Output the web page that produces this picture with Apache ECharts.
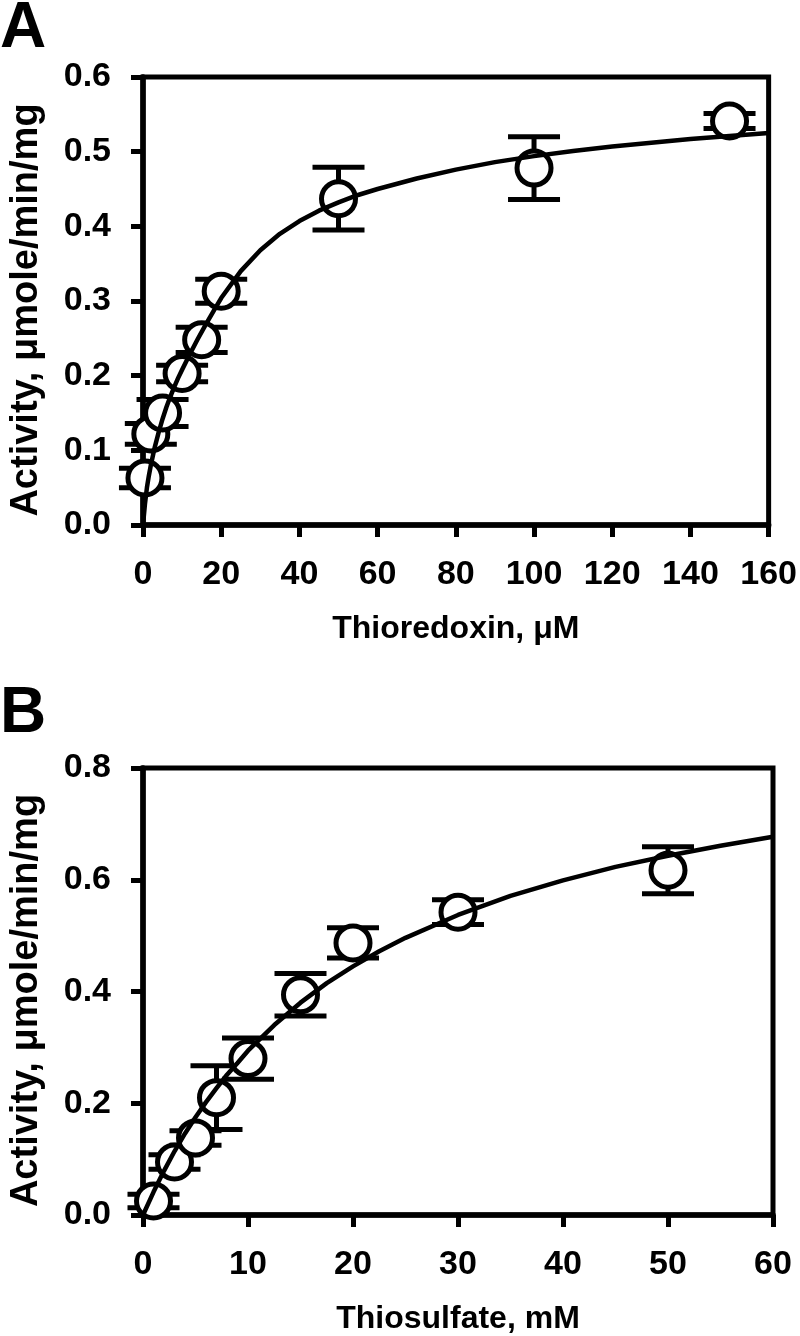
<!DOCTYPE html>
<html>
<head>
<meta charset="utf-8">
<script src="https://cdn.jsdelivr.net/npm/echarts@6/dist/echarts.min.js"></script>
<style>
html,body{margin:0;padding:0;background:#fff;}
#chart{width:800px;height:1336px;}
</style>
</head>
<body>
<div id="chart"></div>
<script>
// Panel A: Thioredoxin
const aX = [0.5, 2, 5, 10, 15, 20, 50, 100, 150];
const aY = [0.063, 0.122, 0.150, 0.203, 0.248, 0.313, 0.437, 0.478, 0.541];
const aErr = [0.013, 0.014, 0.018, 0.011, 0.017, 0.016, 0.042, 0.042, 0.010];
const aCurveX = [0, 0.5, 1, 1.5, 2, 3, 4, 5, 6, 7, 8, 9, 10, 12, 14, 16, 18, 20, 25, 30, 35, 40, 45, 50, 55, 60, 70, 80, 90, 100, 110, 120, 130, 140, 150, 160];
const aCurveY = [0, 0.028, 0.050, 0.066, 0.080, 0.104, 0.124, 0.142, 0.158, 0.172, 0.185, 0.197, 0.208, 0.229, 0.249, 0.268, 0.286, 0.304, 0.340, 0.368, 0.390, 0.407, 0.421, 0.432, 0.442, 0.450, 0.464, 0.476, 0.486, 0.494, 0.501, 0.507, 0.512, 0.517, 0.521, 0.525];
const aXTicks = [0, 20, 40, 60, 80, 100, 120, 140, 160];
const aYTicks = [0.0, 0.1, 0.2, 0.3, 0.4, 0.5, 0.6];

// Panel B: Thiosulfate
const bX = [1, 3, 5, 7, 10, 15, 20, 30, 50];
const bY = [0.025, 0.095, 0.138, 0.210, 0.280, 0.394, 0.487, 0.542, 0.617];
const bErr = [0.012, 0.013, 0.013, 0.057, 0.037, 0.038, 0.027, 0.022, 0.042];
const bCurveX = [0, 1, 2, 3, 4, 5, 6, 7, 8, 9, 10, 12.5, 15, 17.5, 20, 22.5, 25, 30, 35, 40, 45, 50, 55, 60];
const bCurveY = [0, 0.041, 0.079, 0.114, 0.146, 0.175, 0.202, 0.227, 0.251, 0.272, 0.294, 0.340, 0.380, 0.415, 0.445, 0.472, 0.496, 0.537, 0.571, 0.599, 0.623, 0.643, 0.661, 0.677];
const bXTicks = [0, 10, 20, 30, 40, 50, 60];
const bYTicks = [0.0, 0.2, 0.4, 0.6, 0.8];

const FONT = 'Liberation Sans, Arial, sans-serif';
const BLACK = '#000';

function errorRender(params, api) {
  const x = api.value(0), lo = api.value(1), hi = api.value(2);
  const pLo = api.coord([x, lo]);
  const pHi = api.coord([x, hi]);
  const hw = 26;
  const style = { stroke: BLACK, lineWidth: 5, fill: null };
  return {
    type: 'group',
    children: [
      { type: 'line', shape: { x1: pLo[0], y1: pLo[1], x2: pHi[0], y2: pHi[1] }, style },
      { type: 'line', shape: { x1: pLo[0] - hw, y1: pLo[1], x2: pLo[0] + hw, y2: pLo[1] }, style },
      { type: 'line', shape: { x1: pHi[0] - hw, y1: pHi[1], x2: pHi[0] + hw, y2: pHi[1] }, style }
    ]
  };
}

function xAxisCfg(idx, ticks, name) {
  return {
    type: 'value', gridIndex: idx,
    min: ticks[0], max: ticks[ticks.length - 1], interval: ticks[1] - ticks[0],
    name: name, nameLocation: 'middle', nameGap: 88,
    nameTextStyle: { fontFamily: FONT, fontWeight: 'bold', fontSize: 32, color: BLACK },
    axisLine: { show: true, onZero: false, lineStyle: { color: BLACK, width: 5.5 } },
    axisTick: { show: true, length: 12, lineStyle: { color: BLACK, width: 5 } },
    axisLabel: { margin: 33, fontFamily: FONT, fontWeight: 'bold', fontSize: 34, color: BLACK },
    splitLine: { show: false }
  };
}
function yAxisCfg(idx, ticks, name) {
  return {
    type: 'value', gridIndex: idx,
    min: ticks[0], max: ticks[ticks.length - 1], interval: ticks[1] - ticks[0],
    name: name, nameLocation: 'middle', nameGap: 97,
    nameTextStyle: { fontFamily: FONT, fontWeight: 'bold', fontSize: 38, color: BLACK, padding: [0, 18, 0, 0] },
    axisLine: { show: true, onZero: false, lineStyle: { color: BLACK, width: 5.5 } },
    axisTick: { show: true, length: 12, lineStyle: { color: BLACK, width: 5 } },
    axisLabel: { margin: 32, fontFamily: FONT, fontWeight: 'bold', fontSize: 34, color: BLACK,
      formatter: v => v.toFixed(1) },
    splitLine: { show: false }
  };
}

function panelSeries(idx, xs, ys, errs, cx, cy) {
  return [
    {
      type: 'custom', xAxisIndex: idx, yAxisIndex: idx, z: 2,
      renderItem: errorRender,
      encode: { x: 0, y: [1, 2] },
      data: xs.map((x, i) => [x, ys[i] - errs[i], ys[i] + errs[i]])
    },
    {
      type: 'scatter', xAxisIndex: idx, yAxisIndex: idx, z: 3, clip: false,
      symbol: 'circle', symbolSize: 34,
      itemStyle: { color: '#fff', borderColor: BLACK, borderWidth: 5, opacity: 1 },
      data: xs.map((x, i) => [x, ys[i]])
    },
    {
      type: 'line', xAxisIndex: idx, yAxisIndex: idx, z: 4,
      showSymbol: false, smooth: false,
      lineStyle: { color: BLACK, width: 4.5, join: 'round' },
      data: cx.map((x, i) => [x, cy[i]])
    }
  ];
}

const chart = echarts.init(document.getElementById('chart'), null, { renderer: 'canvas' });
chart.setOption({
  animation: false,
  backgroundColor: '#fff',
  grid: [
    { left: 133, top: 77, width: 642, height: 448, show: true, borderColor: BLACK, borderWidth: 5, backgroundColor: 'transparent' },
    { left: 132, top: 768, width: 641, height: 448, show: true, borderColor: BLACK, borderWidth: 5, backgroundColor: 'transparent' }
  ],
  xAxis: [
    xAxisCfg(0, aXTicks, 'Thioredoxin, \u03bcM'),
    xAxisCfg(1, bXTicks, 'Thiosulfate, mM')
  ],
  yAxis: [
    yAxisCfg(0, aYTicks, 'Activity, \u03bcmole/min/mg'),
    yAxisCfg(1, bYTicks, 'Activity, \u03bcmole/min/mg')
  ],
  graphic: [
    { type: 'text', x: 0, y: 29, style: { text: 'A', fontFamily: FONT, fontWeight: 'bold', fontSize: 64, fill: BLACK, textVerticalAlign: 'middle' } },
    { type: 'text', x: 0, y: 714, style: { text: 'B', fontFamily: FONT, fontWeight: 'bold', fontSize: 64, fill: BLACK, textVerticalAlign: 'middle' } }
  ],
  series: [
    ...panelSeries(0, aX, aY, aErr, aCurveX, aCurveY),
    ...panelSeries(1, bX, bY, bErr, bCurveX, bCurveY)
  ]
});
</script>
</body>
</html>
